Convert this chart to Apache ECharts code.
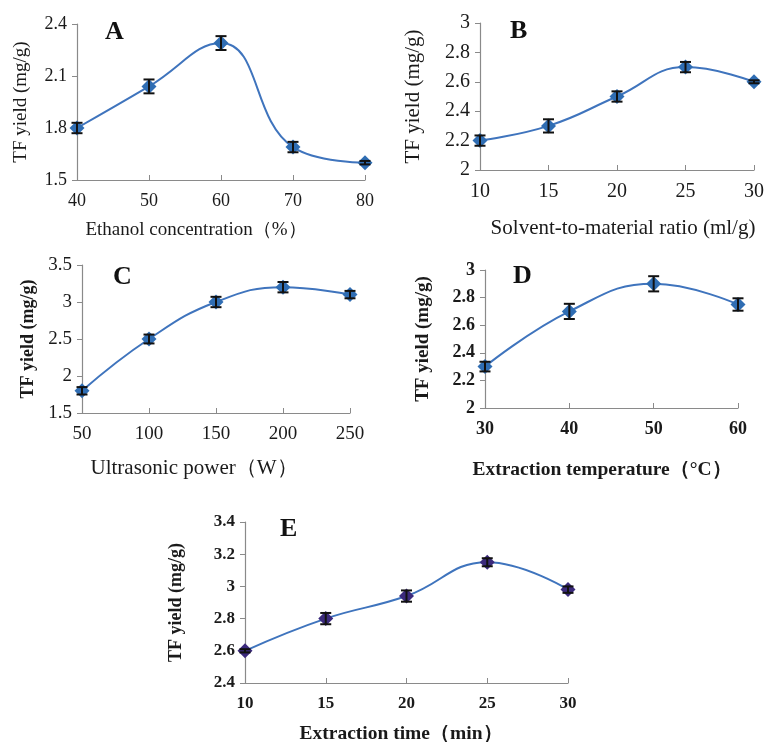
<!DOCTYPE html>
<html><head><meta charset="utf-8">
<script src="https://cdn.jsdelivr.net/npm/echarts@6/dist/echarts.min.js"></script>
<style>html,body{margin:0;padding:0;background:#fff}#c{width:767px;height:742px}</style>
</head><body><div id="c"></div>
<script>
const ethanolX = [40, 50, 60, 70, 80];
const ethanolY = [1.80, 2.04, 2.29, 1.69, 1.60];
const ethanolErr = [0.03, 0.04, 0.04, 0.03, 0.01];

const ratioX = [10, 15, 20, 25, 30];
const ratioY = [2.20, 2.30, 2.50, 2.70, 2.60];
const ratioErr = [0.035, 0.045, 0.035, 0.035, 0.01];

const powerX = [50, 100, 150, 200, 250];
const powerY = [1.80, 2.50, 3.00, 3.20, 3.10];
const powerErr = [0.05, 0.06, 0.07, 0.07, 0.05];

const tempX = [30, 40, 50, 60];
const tempY = [2.30, 2.70, 2.90, 2.75];
const tempErr = [0.035, 0.055, 0.055, 0.045];

const timeX = [10, 15, 20, 25, 30];
const timeY = [2.60, 2.80, 2.94, 3.15, 2.98];
const timeErr = [0.01, 0.035, 0.035, 0.025, 0.02];

const FONT = 'Liberation Serif';
const panels = [
  {x: ethanolX, y: ethanolY, e: ethanolErr, grid: {left: 77, top: 24, width: 288, height: 156},
   xr: [40, 80, 10], yr: [1.5, 2.4, 0.3], bold: false, tick: 18, yname: 19, ygap: 46,
   letter: 'A', lx: 115, ly: 33, xt: 'Ethanol concentration（%）', xtx: 196, xty: 230, xts: 19,
   color: '#2f6db3', line: '#3f74bd'},
  {x: ratioX, y: ratioY, e: ratioErr, grid: {left: 480, top: 23, width: 277, height: 147},
   xr: [10, 30, 5], yr: [2, 3, 0.2], bold: false, tick: 20, yname: 21, ygap: 56,
   letter: 'B', lx: 520, ly: 32, xt: 'Solvent-to-material ratio (ml/g)', xtx: 623, xty: 228, xts: 21,
   color: '#2f6db3', line: '#3f74bd'},
  {x: powerX, y: powerY, e: powerErr, grid: {left: 82, top: 265, width: 268, height: 148},
   xr: [50, 250, 50], yr: [1.5, 3.5, 0.5], bold: false, tick: 19, yname: 18, ygap: 45, ybold: true,
   letter: 'C', lx: 123, ly: 278, xt: 'Ultrasonic power（W）', xtx: 194, xty: 468, xts: 21,
   color: '#2f6db3', line: '#3f74bd'},
  {x: tempX, y: tempY, e: tempErr, grid: {left: 485, top: 270, width: 253, height: 138},
   xr: [30, 60, 10], yr: [2, 3, 0.2], bold: true, tick: 18, yname: 19, ygap: 52,
   letter: 'D', lx: 523, ly: 277, xt: 'Extraction temperature（°C）', xtx: 602, xty: 470, xts: 19.5,
   color: '#2f6db3', line: '#3f74bd'},
  {x: timeX, y: timeY, e: timeErr, grid: {left: 245, top: 522, width: 323, height: 161},
   xr: [10, 30, 5], yr: [2.4, 3.4, 0.2], bold: true, tick: 17, yname: 18, ygap: 60,
   letter: 'E', lx: 290, ly: 530, xt: 'Extraction time（min）', xtx: 401, xty: 734, xts: 19.5,
   color: '#3b2a7c', line: '#3f74bd'}
];

const grids = [], xAxes = [], yAxes = [], series = [], graphics = [];
panels.forEach((p, i) => {
  grids.push(Object.assign({containLabel: false}, p.grid));
  const fw = p.bold ? 'bold' : 'normal';
  xAxes.push({type: 'value', gridIndex: i, min: p.xr[0], max: p.xr[1], interval: p.xr[2],
    axisLine: {lineStyle: {color: '#8a8a8a', width: 1.2}},
    axisTick: {inside: true, length: 5, lineStyle: {color: '#8a8a8a'}},
    splitLine: {show: false},
    axisLabel: {color: '#1a1a1a', fontFamily: FONT, fontSize: p.tick, fontWeight: fw, margin: 12}});
  yAxes.push({type: 'value', gridIndex: i, min: p.yr[0], max: p.yr[1], interval: p.yr[2],
    name: 'TF yield (mg/g)', nameLocation: 'middle', nameGap: p.ygap,
    nameTextStyle: {color: '#1a1a1a', fontFamily: FONT, fontSize: p.yname, fontWeight: (p.bold || p.ybold) ? 'bold' : 'normal'},
    axisLine: {show: true, lineStyle: {color: '#8a8a8a', width: 1.2}},
    axisTick: {show: true, length: 5, lineStyle: {color: '#8a8a8a'}},
    splitLine: {show: false},
    axisLabel: {color: '#1a1a1a', fontFamily: FONT, fontSize: p.tick, fontWeight: fw, margin: 10}});
  const pts = p.x.map((v, k) => [v, p.y[k]]);
  series.push({type: 'line', xAxisIndex: i, yAxisIndex: i, data: pts, smooth: 0.45,
    symbol: 'diamond', symbolSize: [15, 15], z: 3,
    lineStyle: {color: p.line, width: 2},
    itemStyle: {color: p.color}});
  series.push({type: 'custom', xAxisIndex: i, yAxisIndex: i, z: 4,
    data: p.x.map((v, k) => [v, p.y[k] - p.e[k], p.y[k] + p.e[k]]),
    renderItem: function (params, api) {
      const lo = api.coord([api.value(0), api.value(1)]);
      const hi = api.coord([api.value(0), api.value(2)]);
      const w = 5.5;
      const st = {stroke: '#111', lineWidth: 2};
      return {type: 'group', children: [
        {type: 'line', shape: {x1: lo[0], y1: lo[1], x2: hi[0], y2: hi[1]}, style: st},
        {type: 'line', shape: {x1: lo[0] - w, y1: lo[1], x2: lo[0] + w, y2: lo[1]}, style: st},
        {type: 'line', shape: {x1: hi[0] - w, y1: hi[1], x2: hi[0] + w, y2: hi[1]}, style: st}
      ]};
    }});
  graphics.push({type: 'text', left: p.lx - 10, top: p.ly - 14,
    style: {text: p.letter, font: 'bold 26px "' + FONT + '"', fill: '#111'}});
  graphics.push({type: 'text', x: p.xtx, y: p.xty,
    style: {text: p.xt, font: (p.bold ? 'bold ' : '') + p.xts + 'px "' + FONT + '"', fill: '#1a1a1a',
      textAlign: 'center', textVerticalAlign: 'middle'}});
});

const chart = echarts.init(document.getElementById('c'), null, {renderer: 'canvas'});
chart.setOption({
  backgroundColor: '#ffffff',
  animation: false,
  grid: grids, xAxis: xAxes, yAxis: yAxes, series: series, graphic: graphics
});
</script></body></html>
